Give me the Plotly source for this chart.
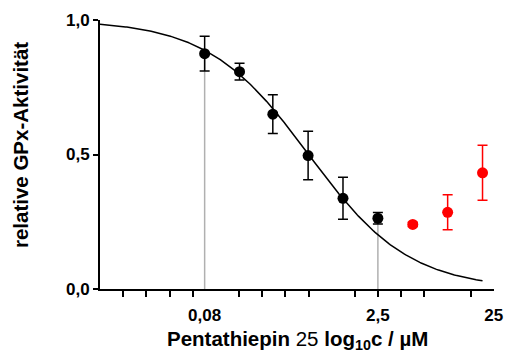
import numpy as np
import plotly.graph_objects as go

# Concentrations (µM) used for the fit, with mean relative activity and SD
conc_fit = [0.08, 0.16, 0.31, 0.625, 1.25, 2.5]
act_fit = [0.875, 0.808, 0.650, 0.496, 0.337, 0.263]
err_fit = [0.065, 0.031, 0.072, 0.090, 0.078, 0.021]

# Higher concentrations excluded from the fit
conc_high = [5, 10, 20]
act_high = [0.240, 0.285, 0.432]
err_high = [0.008, 0.065, 0.102]

# Four-parameter logistic fit parameters
fit_top, fit_bottom, log_ic50, hill = 1.0, 0.0, -0.2, 1.0
fit_start, fit_end = 0.01, 20

# Axis labels
x_tick_conc = [0.08, 2.5, 25]
x_tick_text = ["0,08", "2,5", "25"]
y_tick_vals = [0.0, 0.5, 1.0]

FONT = "Arial, Liberation Sans, sans-serif"

logc_fit = np.log10(conc_fit)
logc_high = np.log10(conc_high)
curve_x = np.linspace(np.log10(fit_start), np.log10(fit_end), 300)
curve_y = fit_bottom + (fit_top - fit_bottom) / (1 + 10 ** ((curve_x - log_ic50) * hill))

fig = go.Figure()

# grey drop lines at the first and last fitted concentrations
for i in (0, len(conc_fit) - 1):
    fig.add_trace(go.Scatter(
        x=[logc_fit[i], logc_fit[i]], y=[0, act_fit[i]], mode="lines",
        line=dict(color="#b0b0b0", width=1.5), hoverinfo="skip", showlegend=False))

fig.add_trace(go.Scatter(
    x=curve_x, y=curve_y, mode="lines",
    line=dict(color="black", width=1.5), showlegend=False))

fig.add_trace(go.Scatter(
    x=logc_fit, y=act_fit, mode="markers",
    marker=dict(color="black", size=11),
    error_y=dict(type="data", array=err_fit, color="black", thickness=1.5, width=5),
    showlegend=False))

fig.add_trace(go.Scatter(
    x=logc_high, y=act_high, mode="markers",
    marker=dict(color="#ff0000", size=11),
    error_y=dict(type="data", array=err_high, color="#ff0000", thickness=1.5, width=5),
    showlegend=False))

fig.update_layout(
    width=513, height=356,
    margin=dict(l=100, r=10, t=20, b=67),
    plot_bgcolor="white", paper_bgcolor="white",
    separators=",.",
    font=dict(family=FONT, color="black"),
    xaxis=dict(
        range=[-2, 1.4], showgrid=False, zeroline=False,
        showline=True, linecolor="black", linewidth=2,
        tickmode="array", tickvals=list(np.log10(x_tick_conc)), ticktext=x_tick_text,
        ticks="", ticklabelstandoff=10,
        tickfont=dict(size=17, family=FONT, weight="bold"),
        minor=dict(tickmode="array",
                   tickvals=[-1.8, -1.6, -1.4, -1.2, -0.8, -0.6, -0.4, -0.2,
                             0.2, 0.4, 0.6, 0.8, 1.2],
                   ticks="outside", ticklen=6, tickwidth=2, tickcolor="black",
                   showgrid=False),
    ),
    yaxis=dict(
        range=[0, 1.0], showgrid=False, zeroline=False,
        showline=True, linecolor="black", linewidth=2,
        tickmode="array", tickvals=y_tick_vals, tickformat=".1f",
        ticks="outside", ticklen=5, tickwidth=2, tickcolor="black",
        tickfont=dict(size=17, family=FONT, weight="bold"),
    ),
    annotations=[
        dict(text="<b>relative GPx-Aktivität</b>", xref="paper", yref="paper",
             x=0, y=0.535, xshift=-80, textangle=-90, showarrow=False,
             xanchor="center", yanchor="middle", font=dict(size=20.5, family=FONT)),
        dict(text="<b>Pentathiepin</b> 25 <b>log<sub>10</sub>c / µM</b>",
             xref="paper", yref="paper", x=0.5, y=0, yshift=-51, showarrow=False,
             xanchor="center", yanchor="middle", font=dict(size=20.5, family=FONT)),
    ],
)

fig.write_html("out.html")
